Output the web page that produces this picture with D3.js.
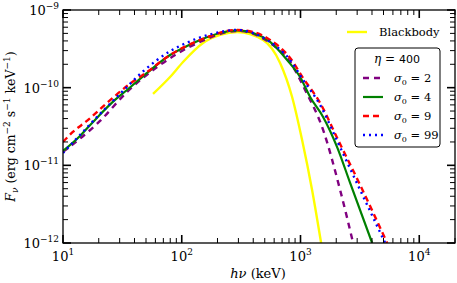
<!DOCTYPE html>
<html>
<head>
<meta charset="utf-8">
<script src="https://cdn.jsdelivr.net/npm/d3@7"></script>
<style>
  body { margin: 0; background: #fff; }
</style>
</head>
<body>
<div id="chart"></div>
<script>
// photon energy (keV) and flux density for each curve
const bbE = [57.3, 79.7, 102.5, 151.1, 210.2, 292.3, 484, 673.2, 849.9, 1031.6, 1252, 1491.5];
const bbF = [8.30e-11, 1.37e-10, 2.14e-10, 3.76e-10, 4.77e-10, 5.21e-10, 4.11e-10, 2.08e-10, 7.59e-11, 2.12e-11, 4.82e-12, 1e-12];

const s2E = [10, 20.5, 34.6, 65.6, 142.6, 292.3, 554.5, 817.6, 1093.5, 1550, 2155.6, 2774];
const s2F = [1.49e-11, 3.73e-11, 8.80e-11, 1.96e-10, 3.88e-10, 5.37e-10, 3.76e-10, 2.14e-10, 9.34e-11, 2.86e-11, 4.82e-12, 1e-12];

const s4E = [10, 13.9, 17.9, 27.4, 34.6, 52.0, 79.7, 110.8, 142.6, 210.2, 292.3, 398.8, 554.5, 771.3, 992, 1205, 1550, 2034, 2617, 4011];
const s4F = [1.53e-11, 2.39e-11, 3.62e-11, 6.95e-11, 9.34e-11, 1.59e-10, 2.63e-10, 3.44e-10, 4.11e-10, 5.06e-10, 5.45e-10, 5.06e-10, 3.88e-10, 2.27e-10, 1.37e-10, 7.59e-11, 4.20e-11, 1.72e-11, 5.94e-12, 1e-12];

const s9E = [10, 12.1, 15.9, 23.5, 34.6, 51.0, 79.7, 142.6, 292.3, 398.8, 554.5, 817.6, 1051.8, 1462.9, 2073.6, 3178, 5365];
const s9F = [2.00e-11, 2.69e-11, 3.73e-11, 6.36e-11, 1.05e-10, 1.59e-10, 2.63e-10, 4.11e-10, 5.53e-10, 5.21e-10, 4.11e-10, 2.41e-10, 1.33e-10, 6.36e-11, 2.12e-11, 5.59e-12, 1e-12];

const s99E = [10, 13.9, 20.5, 30.2, 47.2, 79.7, 110.8, 173.2, 292.3, 398.8, 554.5, 817.6, 1051.8, 1462.9, 2073.6, 3178, 5162];
const s99F = [1.44e-11, 2.46e-11, 4.60e-11, 8.30e-11, 1.62e-10, 2.95e-10, 3.80e-10, 4.85e-10, 5.53e-10, 5.06e-10, 3.88e-10, 2.27e-10, 1.26e-10, 5.99e-11, 1.94e-11, 4.82e-12, 1e-12];

const sigmaLabels = ["2", "4", "9", "99"];
const xTickLabels = ["1", "2", "3", "4"];
const yTickLabels = ["-9", "-10", "-11", "-12"];

const serif = "DejaVu Serif";
const width = 457, height = 283;
const margin = { left: 63, right: 2, top: 10, bottom: 40 };

const svg = d3.select("#chart").append("svg")
  .attr("width", width)
  .attr("height", height)
  .style("font-family", serif);

const x = d3.scaleLog().domain([10, 2e4]).range([margin.left, width - margin.right]);
const y = d3.scaleLog().domain([1e-12, 1e-9]).range([height - margin.bottom, margin.top]);

svg.append("clipPath").attr("id", "plotClip")
  .append("rect")
  .attr("x", margin.left).attr("y", margin.top)
  .attr("width", width - margin.left - margin.right)
  .attr("height", height - margin.top - margin.bottom);

const series = [
  { E: bbE, F: bbF, color: "#ffff00", dash: null, w: 2.4 },
  { E: s2E, F: s2F, color: "#800080", dash: "6,5", w: 2.4 },
  { E: s4E, F: s4F, color: "#008000", dash: null, w: 2.2 },
  { E: s9E, F: s9F, color: "#ff0000", dash: "6,4", w: 2.4 },
  { E: s99E, F: s99F, color: "#0000ff", dash: "2,4", w: 2.4 }
];

const line = d3.line()
  .x((d) => x(d[0]))
  .y((d) => y(d[1]))
  .curve(d3.curveMonotoneX);

const curves = svg.append("g").attr("clip-path", "url(#plotClip)");
series.forEach((s) => {
  curves.append("path")
    .attr("d", line(s.E.map((e, i) => [e, s.F[i]])))
    .attr("fill", "none")
    .attr("stroke", s.color)
    .attr("stroke-width", s.w)
    .attr("stroke-dasharray", s.dash);
});

// axes: ticks drawn inward on all four sides
const axisG = svg.append("g");
const x0 = margin.left, x1 = width - margin.right;
const y0 = height - margin.bottom, y1 = margin.top;

function logTicks(lo, hi) {
  const out = [];
  for (let p = Math.floor(Math.log10(lo)); p <= Math.ceil(Math.log10(hi)); p++) {
    for (let m = 1; m < 10; m++) {
      const v = m * Math.pow(10, p);
      if (v >= lo * 0.999 && v <= hi * 1.001) out.push({ v: v, major: m === 1 });
    }
  }
  return out;
}

logTicks(10, 2e4).forEach((t) => {
  const len = t.major ? 8 : 5;
  const sw = t.major ? 1.6 : 1;
  const px = x(t.v);
  axisG.append("line").attr("x1", px).attr("x2", px).attr("y1", y0).attr("y2", y0 - len)
    .attr("stroke", "#000").attr("stroke-width", sw);
  axisG.append("line").attr("x1", px).attr("x2", px).attr("y1", y1).attr("y2", y1 + len)
    .attr("stroke", "#000").attr("stroke-width", sw);
});

logTicks(1e-12, 1e-9).forEach((t) => {
  const len = t.major ? 8 : 5;
  const sw = t.major ? 1.6 : 1;
  const py = y(t.v);
  axisG.append("line").attr("x1", x0).attr("x2", x0 + len).attr("y1", py).attr("y2", py)
    .attr("stroke", "#000").attr("stroke-width", sw);
  axisG.append("line").attr("x1", x1).attr("x2", x1 - len).attr("y1", py).attr("y2", py)
    .attr("stroke", "#000").attr("stroke-width", sw);
});

axisG.append("rect")
  .attr("x", x0).attr("y", y1)
  .attr("width", x1 - x0).attr("height", y0 - y1)
  .attr("fill", "none").attr("stroke", "#000").attr("stroke-width", 1.3);

// tick labels
xTickLabels.forEach((p) => {
  const t = svg.append("text")
    .attr("x", x(Math.pow(10, +p)))
    .attr("y", y0 + 18)
    .attr("text-anchor", "middle")
    .attr("font-size", 13);
  t.append("tspan").text("10");
  t.append("tspan").attr("dy", -6).attr("font-size", 9).text(p);
});

yTickLabels.forEach((p) => {
  const t = svg.append("text")
    .attr("x", x0 - 4)
    .attr("y", y(Math.pow(10, +p)) + 5)
    .attr("text-anchor", "end")
    .attr("font-size", 13);
  t.append("tspan").text("10");
  t.append("tspan").attr("dy", -6).attr("font-size", 9).text(p.replace("-", "\u2212"));
});

// axis titles
const xl = svg.append("text")
  .attr("x", 258)
  .attr("y", 278)
  .attr("text-anchor", "middle")
  .attr("font-size", 13);
xl.append("tspan").attr("font-style", "italic").text("h\u03bd");
xl.append("tspan").text(" (keV)");

const yl = svg.append("text")
  .attr("transform", `translate(15, ${(y0 + y1) / 2}) rotate(-90)`)
  .attr("text-anchor", "middle")
  .attr("font-size", 12.5);
yl.append("tspan").attr("font-style", "italic").text("F");
yl.append("tspan").attr("font-style", "italic").attr("font-size", 9).attr("dy", 3).text("\u03bd");
yl.append("tspan").attr("dy", -3).text(" (erg cm");
yl.append("tspan").attr("dy", -5).attr("font-size", 9).text("\u22122");
yl.append("tspan").attr("dy", 5).text(" s");
yl.append("tspan").attr("dy", -5).attr("font-size", 9).text("\u22121");
yl.append("tspan").attr("dy", 5).text(" keV");
yl.append("tspan").attr("dy", -5).attr("font-size", 9).text("\u22121");
yl.append("tspan").attr("dy", 5).text(")");

// legend: blackbody entry without frame
svg.append("line").attr("x1", 347).attr("x2", 367).attr("y1", 32).attr("y2", 32)
  .attr("stroke", "#ffff00").attr("stroke-width", 2.4);
svg.append("text").attr("x", 379).attr("y", 36).attr("font-size", 11.5)
  .text("Blackbody");

// legend box for sigma_0 curves
const lg = svg.append("g");
lg.append("rect")
  .attr("x", 355).attr("y", 48).attr("width", 85).attr("height", 99)
  .attr("rx", 3).attr("fill", "#fff").attr("stroke", "#000").attr("stroke-width", 1);

const title = lg.append("text").attr("x", 397).attr("y", 63).attr("text-anchor", "middle").attr("font-size", 12);
title.append("tspan").attr("font-style", "italic").text("\u03b7");
title.append("tspan").text(" = ");
title.append("tspan").style("font-family", "DejaVu Sans").attr("font-size", 11).text("400");

sigmaLabels.forEach((lab, i) => {
  const s = series[i + 1];
  const ly = 78 + i * 19;
  lg.append("line").attr("x1", 363).attr("x2", 383).attr("y1", ly).attr("y2", ly)
    .attr("stroke", s.color).attr("stroke-width", s.w).attr("stroke-dasharray", s.dash);
  const t = lg.append("text").attr("x", 394).attr("y", ly + 4).attr("font-size", 11.5);
  t.append("tspan").attr("font-style", "italic").text("\u03c3");
  t.append("tspan").attr("font-size", 8).attr("dy", 3).text("0");
  t.append("tspan").attr("dy", -3).text(" = " + lab);
});
</script>
</body>
</html>
